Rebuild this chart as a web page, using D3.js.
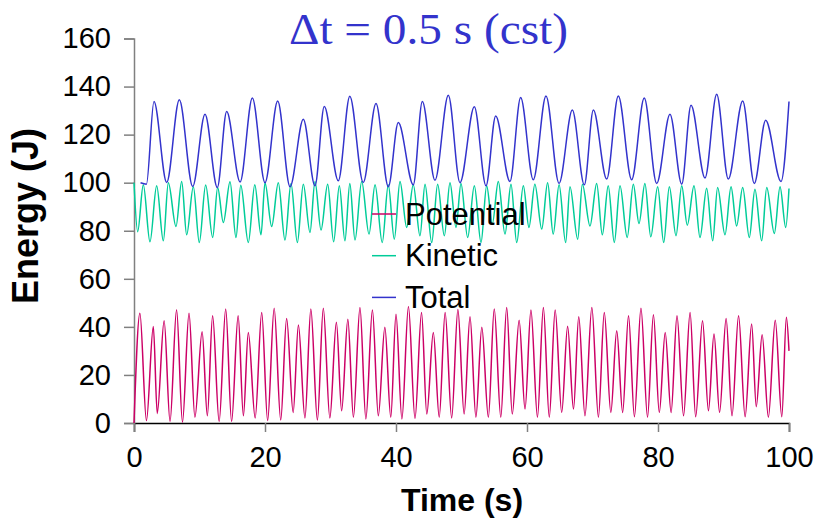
<!DOCTYPE html>
<html>
<head>
<meta charset="utf-8">
<script src="https://cdn.jsdelivr.net/npm/d3@7"></script>
<style>
  body { margin: 0; background: #fff; }
  svg { display: block; }
  text { font-family: 'Liberation Sans', Arial, sans-serif; }
</style>
</head>
<body>
<div id="chart"></div>
<script>
const width = 818;
const height = 518;

// Potential energy: times (s) and values (J) at each visible peak / trough
const potT = [0, 0.9, 1.9, 2.95, 3.55, 4.6, 5.5, 6.5, 7.4, 8.4, 9.3, 10.4, 11.2, 12.0, 13.0, 14.0, 14.9, 15.9,
  16.7, 17.45, 18.5, 19.5, 20.4, 21.4, 22.4, 23.3, 24.3, 25.1, 26.1, 27.0, 28.0, 28.9, 29.9, 30.9, 31.7, 32.65,
  33.5, 34.5, 35.4, 36.4, 37.3, 38.3, 39.2, 40.0, 40.9, 41.9, 42.9, 43.9, 44.7, 45.7, 46.6, 47.5, 48.5, 49.45,
  50.4, 51.3, 52.2, 53.1, 54.1, 55.0, 56.0, 56.9, 57.75, 58.8, 59.7, 60.6, 61.6, 62.5, 63.4, 64.3, 65.3, 66.2,
  67.1, 67.9, 68.85, 69.9, 70.9, 71.8, 72.8, 73.7, 74.6, 75.5, 76.4, 77.4, 78.4, 79.3, 80.2, 81.1, 82.0, 82.9,
  83.9, 84.9, 85.75, 86.8, 87.7, 88.55, 89.4, 90.4, 91.3, 92.3, 93.3, 94.3, 95.0, 95.9, 96.85, 97.9, 98.9, 99.6, 100];
const potV = [0, 45.7, 1, 40.2, 4, 42.6, 0.6, 47.1, 0.3, 45.7, 2.4, 38, 3, 44.6, 0.6, 47.4, 0.6, 44.6,
  3, 37.7, 2.1, 46, 1, 47.8, 1.2, 43.5, 4.4, 40.8, 2.1, 47.4, 1.2, 47.8, 2.1, 41.9, 5.1, 43.2,
  2.4, 48.1, 1.7, 47, 3, 39.8, 2.4, 45.3, 1.7, 48.5, 1.9, 46, 3.7, 37.7, 2.4, 46, 2.1, 47.2,
  3.7, 44.2, 2.4, 39.8, 2.4, 47.4, 2.4, 48.1, 3.7, 42.8, 5.8, 47, 2.4, 48.1, 2.4, 47, 4.4, 40.3,
  5.8, 44.2, 3, 48.1, 2.4, 46, 4.4, 38.4, 4.4, 44.6, 2.6, 47.7, 2.4, 45, 4.4, 37.7, 4.4, 44.6,
  3, 46, 2.6, 42.6, 5.1, 37, 4.4, 43.5, 3, 44.6, 2.6, 41.2, 6.8, 36.7, 2.4, 42.8, 2.6, 44, 30];

// Kinetic energy
const kinT = [0, 0.56, 1.42, 2.44, 3.46, 4.48, 5.24, 6.41, 7.28, 8.04, 9.06, 9.97, 10.94, 12.01, 12.77, 13.64, 14.66, 15.57,
  16.3, 17.45, 18.44, 19.39, 20.0, 21.02, 22.03, 23.05, 23.97, 24.94, 25.85, 26.87, 27.63, 28.55, 29.57, 30.48, 31.35, 32.2,
  32.95, 33.74, 34.76, 35.88, 36.8, 37.9, 38.82, 39.74, 40.61, 41.63, 42.64, 43.66, 44.43, 45.45, 46.36, 47.38, 48.24, 49.16,
  49.92, 50.94, 51.96, 52.98, 53.84, 54.7, 55.62, 56.64, 57.56, 58.43, 59.44, 60.3, 61.2, 62.25, 63.15, 64.0, 64.9, 65.9,
  66.56, 67.74, 68.45, 69.62, 70.64, 71.5, 72.4, 73.33, 74.2, 75.3, 76.23, 77.1, 78.0, 78.9, 79.95, 80.87, 81.73, 82.75,
  83.62, 84.47, 85.5, 86.41, 87.43, 88.35, 89.1, 90.23, 91.15, 92.0, 92.93, 93.94, 94.8, 95.83, 96.6, 97.76, 98.63, 99.5, 100];
const kinV = [100, 79.6, 99.1, 75.4, 98.7, 75.8, 100, 81.8, 100.5, 78.3, 98.3, 75.1, 99, 77.2, 98, 83.4, 100.4, 77.2,
  98.9, 75.1, 99.1, 78.3, 100, 81.8, 100, 76.1, 99.7, 75.1, 99.4, 79.3, 100.5, 80.3, 99.4, 75.4, 98.7, 75.8,
  99.7, 76.1, 100.5, 78.6, 99.1, 75.1, 99.1, 76.5, 100.5, 81.4, 99.1, 77.9, 99.4, 75.1, 99.4, 77.9, 100, 81.4,
  99.7, 77.2, 98.7, 75.1, 98.7, 82.8, 100.5, 78.6, 99.4, 75.1, 98.7, 81.4, 99.4, 80.7, 100, 78.6, 99.1, 75.1,
  98.3, 76.5, 99.4, 82, 99.7, 78.3, 98.7, 75.1, 98.7, 77.2, 99.4, 83, 99.7, 77.5, 98.3, 75.1, 98.3, 77.9,
  98.7, 82.3, 98.7, 77.2, 97.7, 75.8, 98, 78.3, 98.3, 82, 98, 77.2, 97.3, 75.8, 98, 78.9, 98.3, 81.4, 97.6];

// Total energy
const totT = [1.0, 1.9, 3.05, 4.99, 6.92, 8.96, 10.84, 12.72, 14.15, 16.2, 18.07, 20.0, 21.94, 23.82, 25.85, 27.63, 29.05, 31.19,
  32.95, 35.0, 36.95, 38.83, 40.35, 42.64, 44.02, 45.95, 47.99, 49.77, 51.96, 53.74, 55.22, 57.4, 59.03, 60.96, 62.9, 64.89,
  66.92, 68.75, 70.13, 72.17, 73.94, 75.98, 77.9, 79.8, 81.83, 83.62, 85.04, 87.18, 88.96, 90.73, 92.93, 94.7, 96.44, 98.78, 100];
const totV = [100, 99.4, 133.8, 100.1, 134.5, 98.4, 128.5, 98, 129.6, 100.3, 135.2, 100, 134, 98.3, 126.4, 98.7, 131.7, 100.8,
  136, 100.1, 132.9, 98.3, 125, 99.1, 133.8, 101, 136.4, 100, 131.6, 98.7, 127.8, 100.5, 135.4, 101.2, 136.1, 99.7,
  130.2, 99.1, 130.2, 101.5, 136.1, 101.2, 135.2, 99.7, 128.5, 99.4, 132.2, 101.9, 136.8, 101.5, 134, 99.7, 126, 100.5, 133.8];

const seriesNames = ['Potential', 'Kinetic', 'Total'];
const seriesColors = ['#CC0066', '#00CC99', '#3333CC'];
const xTicks = [0, 20, 40, 60, 80, 100];
const yTicks = [0, 20, 40, 60, 80, 100, 120, 140, 160];

const series = [
  d3.zip(potT, potV),
  d3.zip(kinT, kinV),
  d3.zip(totT, totV)
];

const svg = d3.select('#chart')
  .append('svg')
  .attr('width', width)
  .attr('height', height);

const xScale = d3.scaleLinear().domain([0, 100]).range([134, 789]);
const yScale = d3.scaleLinear().domain([0, 160]).range([423, 38.5]);

const line = d3.line()
  .x(d => xScale(d[0]))
  .y(d => yScale(d[1]))
  .curve(d3.curveMonotoneX);

// axes
const xAxis = d3.axisBottom(xScale).tickValues(xTicks).tickSize(9).tickPadding(14).tickFormat(d3.format('d'));
const yAxis = d3.axisLeft(yScale).tickValues(yTicks).tickSize(10).tickPadding(13).tickFormat(d3.format('d'));

const gx = svg.append('g')
  .attr('transform', 'translate(0,' + yScale(0) + ')')
  .call(xAxis);
gx.select('.domain').attr('stroke', '#000').attr('stroke-width', 1.5);
gx.selectAll('.tick line').attr('stroke', '#808080').attr('stroke-width', 1.5);
gx.selectAll('.tick text').style('font-size', '29px').attr('fill', '#000');

const gy = svg.append('g')
  .attr('transform', 'translate(' + xScale(0) + ',0)')
  .call(yAxis);
gy.select('.domain').attr('stroke', '#808080').attr('stroke-width', 1.5);
gy.selectAll('.tick line').attr('stroke', '#808080').attr('stroke-width', 1.5);
gy.selectAll('.tick text').style('font-size', '29px').attr('fill', '#000');

// lines
svg.selectAll('path.series')
  .data(series)
  .enter()
  .append('path')
  .attr('class', 'series')
  .attr('d', line)
  .attr('fill', 'none')
  .attr('stroke', (d, i) => seriesColors[i])
  .attr('stroke-width', 1.5);

// title
svg.append('text')
  .text('\u0394t = 0.5 s (cst)')
  .attr('x', 289)
  .attr('y', 44)
  .attr('textLength', 279)
  .attr('lengthAdjust', 'spacingAndGlyphs')
  .style('font-family', "'Liberation Serif', 'Times New Roman', serif")
  .style('font-size', '45px')
  .attr('fill', '#3333CC');

// axis titles
svg.append('text')
  .text('Time (s)')
  .attr('x', 462)
  .attr('y', 511)
  .attr('text-anchor', 'middle')
  .style('font-size', '32px')
  .style('font-weight', 'bold');

svg.append('text')
  .text('Energy (J)')
  .attr('transform', 'translate(38,216) rotate(-90)')
  .attr('text-anchor', 'middle')
  .style('font-size', '36px')
  .style('font-weight', 'bold');

// legend
const legend = svg.append('g');
seriesNames.forEach((name, i) => {
  const y = 214 + i * 41.7;
  legend.append('line')
    .attr('x1', 372).attr('x2', 396)
    .attr('y1', y).attr('y2', y)
    .attr('stroke', seriesColors[i])
    .attr('stroke-width', 1.5);
  legend.append('text')
    .text(name)
    .attr('x', 405)
    .attr('y', y + 10.5)
    .style('font-size', '31px');
});
</script>
</body>
</html>
